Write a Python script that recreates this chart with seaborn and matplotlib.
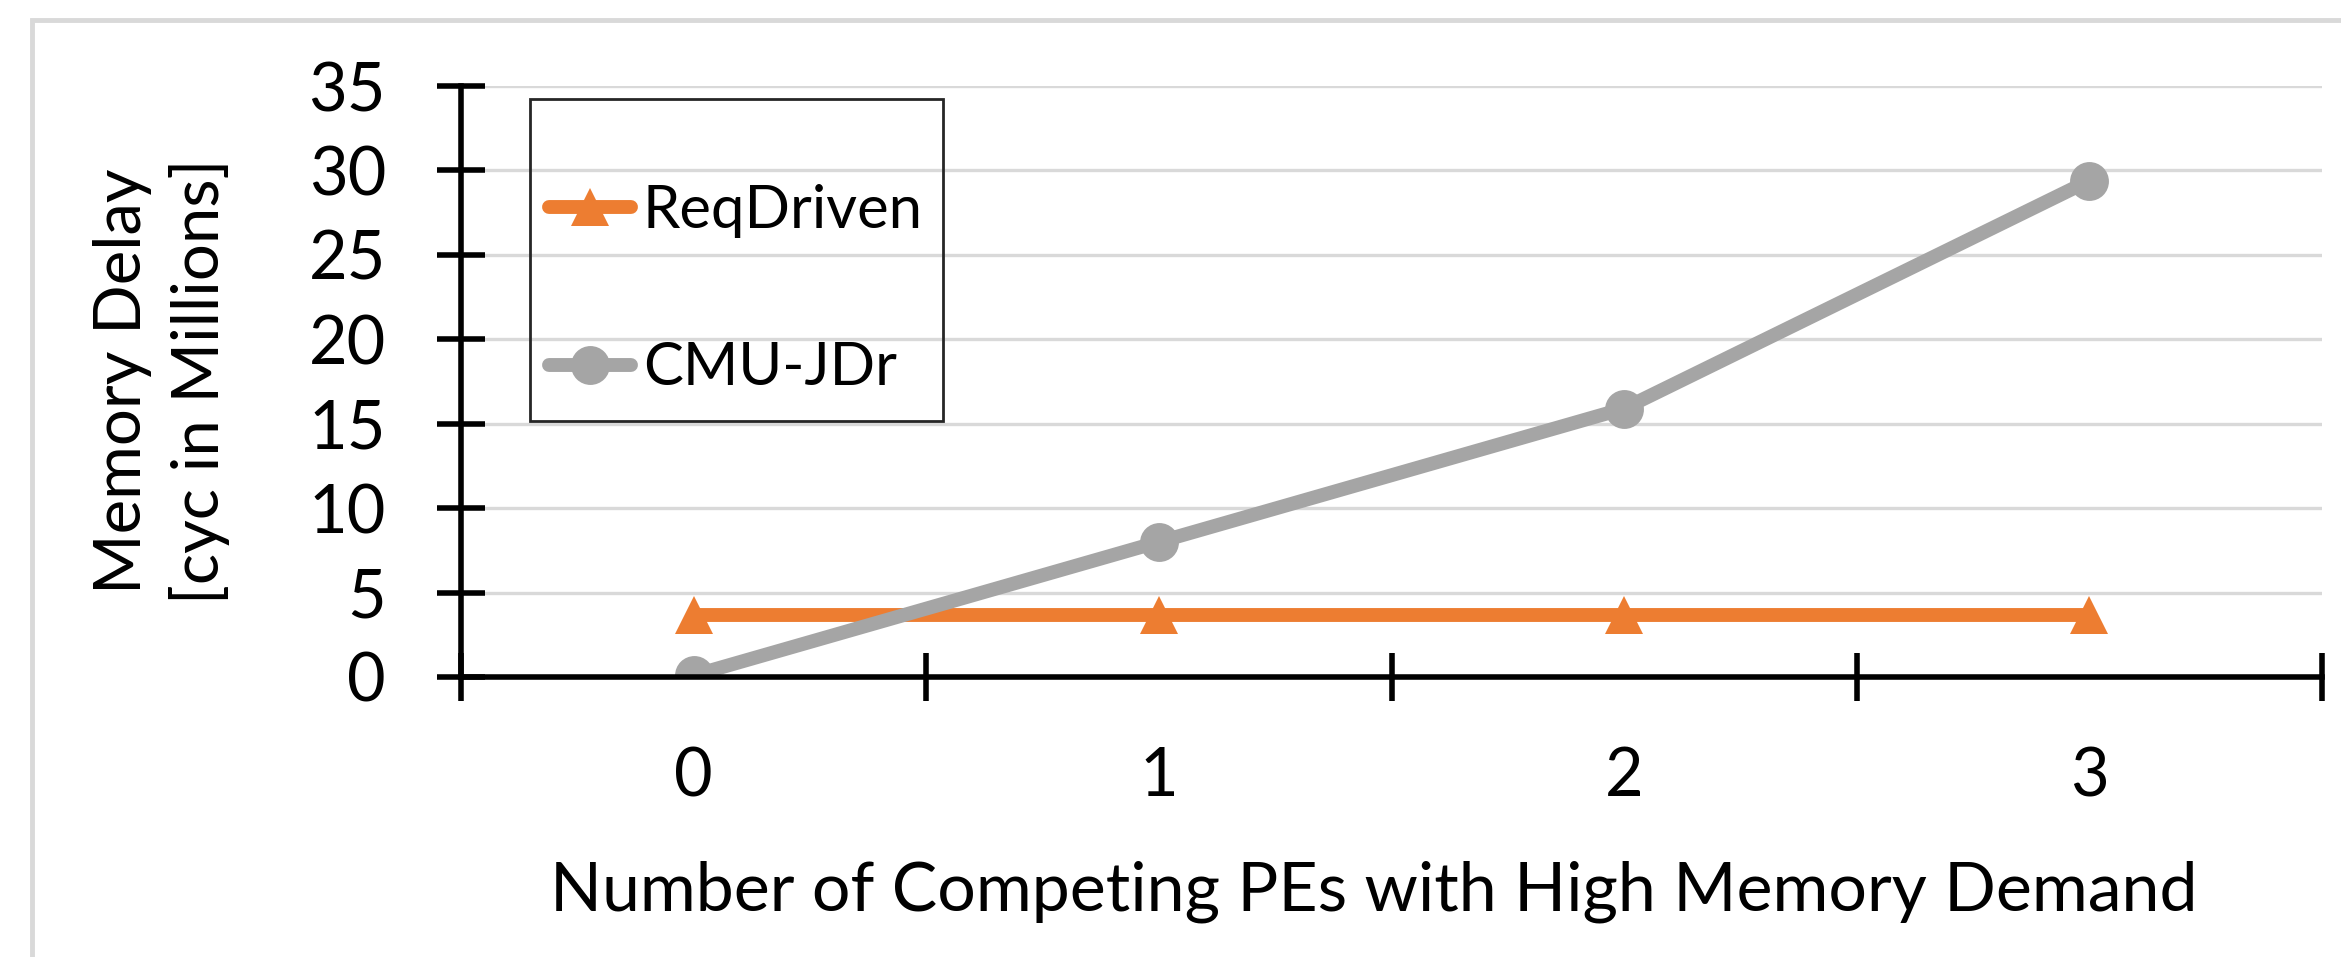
import matplotlib
matplotlib.use("Agg")
import matplotlib.pyplot as plt
from matplotlib.patches import Rectangle
from matplotlib.ticker import FixedLocator, NullFormatter
import seaborn as sns

# Data: memory delay (millions of cycles) vs. number of competing PEs
competing_pes = [0, 1, 2, 3]
req_driven = [3.7, 3.7, 3.7, 3.7]
cmu_jdr = [0.1, 8.0, 15.9, 29.4]
y_ticks = [0, 5, 10, 15, 20, 25, 30, 35]

ORANGE = "#ED7D31"
GRAY = "#A5A5A5"
GRID = "#D9D9D9"

sns.set_style("white")
plt.rcParams["font.family"] = ["Lato", "DejaVu Sans"]

W, H = 2341, 957
fig = plt.figure(figsize=(W / 100, H / 100), dpi=100)
ax = fig.add_axes([461 / W, 1 - 677 / H, (2322 - 461) / W, (677 - 86) / H])

line_kw = dict(linewidth=10, markersize=28, markeredgewidth=0,
               solid_capstyle="round", ax=ax)
sns.lineplot(x=competing_pes, y=req_driven, color=ORANGE, marker="^",
             label="ReqDriven", **line_kw)
sns.lineplot(x=competing_pes, y=cmu_jdr, color=GRAY, marker="o",
             label="CMU-JDr", **line_kw)

ax.set_xlim(-0.5, 3.5)
ax.set_ylim(0, 35)

# y axis
ax.set_yticks(y_ticks)
ax.set_yticklabels([str(v) for v in y_ticks])
ax.yaxis.grid(True, color=GRID, linewidth=2.4)
ax.xaxis.grid(False)
ax.set_axisbelow(True)

# x axis: boundary ticks between categories, labels centred on categories
ax.xaxis.set_major_locator(FixedLocator([-0.5, 0.5, 1.5, 2.5, 3.5]))
ax.xaxis.set_major_formatter(NullFormatter())
ax.xaxis.set_minor_locator(FixedLocator(competing_pes))
ax.set_xticklabels([str(v) for v in competing_pes], minor=True)

for side in ("top", "right"):
    ax.spines[side].set_visible(False)
for side in ("left", "bottom"):
    ax.spines[side].set_color("black")
    ax.spines[side].set_linewidth(4)

ax.tick_params(axis="both", which="major", direction="inout", length=34,
               width=4, color="black", labelsize=48, labelcolor="black",
               bottom=True, left=True)
ax.tick_params(axis="y", which="major", pad=37)
ax.tick_params(axis="x", which="minor", bottom=True, length=0, pad=50,
               labelsize=48, labelcolor="black")

ax.set_xlabel("Number of Competing PEs with High Memory Demand",
              fontsize=49, color="black")
ax.xaxis.set_label_coords(0.4906, -0.31)
ax.set_ylabel("Memory Delay\n[cyc in Millions]", fontsize=47,
              color="black", linespacing=1.35)
ax.yaxis.set_label_coords(-0.124, 0.5)

# Legend (transparent, framed separately)
leg = ax.legend(loc="center left",
                bbox_to_anchor=(549 / W, 1 - 289.5 / H),
                bbox_transform=fig.transFigure,
                frameon=False, fontsize=43, borderpad=0, borderaxespad=0,
                handlelength=1.37, handletextpad=0.2, labelspacing=1.74,
                numpoints=1)
for t in leg.get_texts():
    t.set_color("black")
fig.add_artist(Rectangle((530 / W, 1 - 421 / H), 413 / W, 322 / H,
                         transform=fig.transFigure, fill=False,
                         edgecolor="#262626", linewidth=2))

# Light chart-area border
fig.add_artist(Rectangle((32 / W, -0.1), 1.2, 1.1 - 20 / H,
                         transform=fig.transFigure, fill=False,
                         edgecolor=GRID, linewidth=3.5))

fig.savefig("out.png", dpi=100, facecolor="white")
